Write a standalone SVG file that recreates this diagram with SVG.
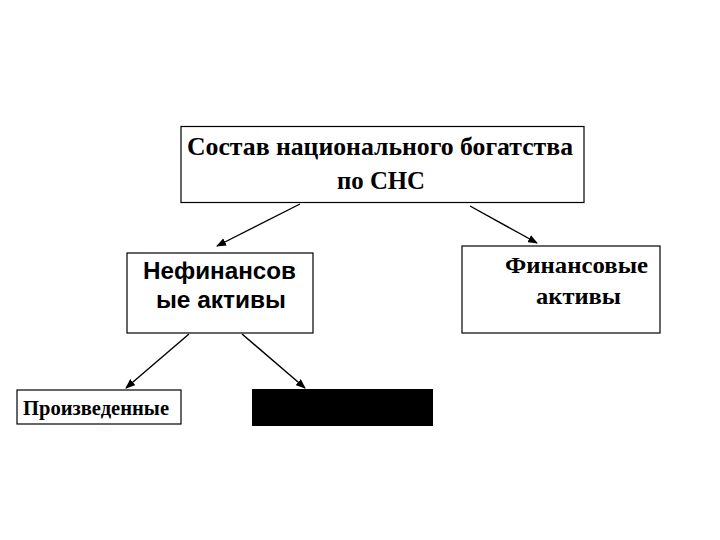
<svg xmlns="http://www.w3.org/2000/svg" width="720" height="540" viewBox="0 0 720 540">
<defs>
<marker id="ah" markerWidth="10" markerHeight="8" refX="9" refY="4" orient="auto" markerUnits="userSpaceOnUse">
<path d="M0,0 L10,4 L0,8 z" fill="#000"/>
</marker>
<style>
.box{fill:#fff;stroke:#000;stroke-width:1.2}
.serif{font-family:"Liberation Serif","Times New Roman",serif;fill:#000}
.sans{font-family:"Liberation Sans",Arial,sans-serif;fill:#000}
.conn line{stroke:#000;stroke-width:1.4;marker-end:url(#ah)}
</style>
</defs>
<rect width="720" height="540" fill="#fff"/>
<g id="root">
<rect class="box" x="181" y="126.5" width="403" height="76"/>
<text class="serif" x="187" y="155" font-size="26" font-weight="bold" textLength="386" lengthAdjust="spacingAndGlyphs">Состав национального богатства</text>
<text class="serif" x="337" y="189" font-size="26" font-weight="bold" textLength="88" lengthAdjust="spacingAndGlyphs">по СНС</text>
</g>
<g id="nonfin">
<rect class="box" x="127" y="253" width="186" height="80"/>
<text class="sans" x="143" y="279" font-size="24" font-weight="bold" textLength="153" lengthAdjust="spacingAndGlyphs">Нефинансов</text>
<text class="sans" x="156" y="308" font-size="24" font-weight="bold" textLength="130" lengthAdjust="spacingAndGlyphs">ые активы</text>
</g>
<g id="fin">
<rect class="box" x="462" y="246" width="198" height="87"/>
<text class="serif" x="505" y="273" font-size="23" font-weight="bold" textLength="143" lengthAdjust="spacingAndGlyphs">Финансовые</text>
<text class="serif" x="536" y="304" font-size="23" font-weight="bold" textLength="85" lengthAdjust="spacingAndGlyphs">активы</text>
</g>
<g id="produced">
<rect class="box" x="17" y="390" width="164" height="34"/>
<text class="serif" x="23" y="415" font-size="21" font-weight="bold" textLength="146" lengthAdjust="spacingAndGlyphs">Произведенные</text>
</g>
<g id="hidden">
<rect x="252" y="389" width="181" height="37" fill="#000"/>
</g>
<g class="conn">
<line x1="300" y1="204" x2="217" y2="246"/>
<line x1="470" y1="206" x2="537" y2="243"/>
<line x1="189" y1="334" x2="126" y2="388"/>
<line x1="242" y1="334" x2="305" y2="388"/>
</g>
</svg>
